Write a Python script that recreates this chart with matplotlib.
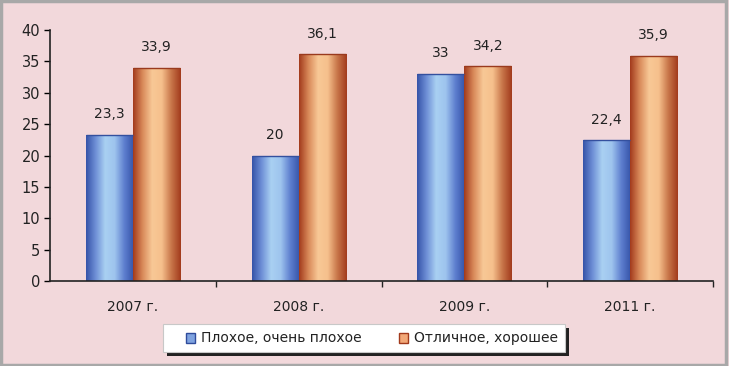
import matplotlib.pyplot as plt
import numpy as np
from matplotlib.colors import LinearSegmentedColormap
from matplotlib.patches import Rectangle

years = ["2007 г.", "2008 г.", "2009 г.", "2011 г."]
bad = [23.3, 20, 33, 22.4]
good = [33.9, 36.1, 34.2, 35.9]
bad_labels = ["23,3", "20", "33", "22,4"]
good_labels = ["33,9", "36,1", "34,2", "35,9"]
series_names = ["Плохое, очень плохое", "Отличное, хорошее"]

BG = "#F2D8DB"
blue_cmap = LinearSegmentedColormap.from_list(
    "b", ["#3553A8", "#6E8FD6", "#A9D0F2", "#9EC4EE", "#5E7FCF", "#3553A8"])
orange_cmap = LinearSegmentedColormap.from_list(
    "o", ["#A23A1C", "#D98A5A", "#F8C896", "#F6C08C", "#C8764A", "#A23A1C"])

fig = plt.figure(figsize=(7.29, 3.66), dpi=100)
fig.patch.set_facecolor(BG)
fig.patches.append(Rectangle((0.002, 0.004), 0.994, 0.992, transform=fig.transFigure,
                             fill=False, edgecolor="#A8A8A8", linewidth=2.5))

ax = fig.add_axes([50 / 729, 1 - 281 / 366, 663 / 729, 251 / 366])
ax.set_facecolor(BG)

x = np.arange(len(years))
w = 0.284
grad = np.linspace(0, 1, 256).reshape(1, -1)


def gradient_bars(xs, vals, cmap, top_color):
    bars = ax.bar(xs, vals, w, color="none", edgecolor="none", zorder=2)
    for b in bars:
        x0, y0 = b.get_x(), b.get_y()
        im = ax.imshow(grad, cmap=cmap, aspect="auto", zorder=2,
                       extent=(x0, x0 + b.get_width(), y0, y0 + b.get_height()))
        im.set_clip_path(b)
        ax.plot([x0, x0 + b.get_width()], [y0 + b.get_height()] * 2,
                color=top_color, lw=1, zorder=3, solid_capstyle="butt")
    return bars


gradient_bars(x - w / 2, bad, blue_cmap, "#34509E")
gradient_bars(x + w / 2, good, orange_cmap, "#9A3A1E")

for i in range(len(years)):
    ax.text(x[i] - w / 2, bad[i] + 2.2, bad_labels[i], ha="center", va="bottom",
            fontsize=10, color="#222222")
    ax.text(x[i] + w / 2, good[i] + 2.2, good_labels[i], ha="center", va="bottom",
            fontsize=10, color="#222222")

ax.set_xlim(-0.5, len(years) - 0.5)
ax.set_ylim(0, 40)
ax.set_yticks(range(0, 41, 5))
ax.set_xticks(x)
ax.set_xticklabels(years, fontsize=10, color="#222222")
ax.set_xticks(np.arange(0.5, len(years) - 0.5 + 0.01, 1), minor=True)
ax.tick_params(axis="x", which="major", length=0, pad=14)
ax.tick_params(axis="x", which="minor", length=4, width=1, color="#222222")
ax.tick_params(axis="y", length=4, width=1, labelsize=10.5, labelcolor="#222222", pad=3)
for s in ["top", "right"]:
    ax.spines[s].set_visible(False)
for s in ["left", "bottom"]:
    ax.spines[s].set_color("#222222")
    ax.spines[s].set_linewidth(1.2)

# legend box with shadow
fig.patches.append(Rectangle((167 / 729, 1 - 356 / 366), 402 / 729, 28 / 366,
                             transform=fig.transFigure, facecolor="#222222",
                             edgecolor="none", zorder=1))
fig.patches.append(Rectangle((163 / 729, 1 - 352 / 366), 402 / 729, 28 / 366,
                             transform=fig.transFigure, facecolor="white",
                             edgecolor="#C8C8C8", linewidth=0.8, zorder=2))
fig.patches.append(Rectangle((186 / 729, 1 - 343 / 366), 9 / 729, 10 / 366,
                             transform=fig.transFigure, facecolor="#7FA3E0",
                             edgecolor="#2F4C9C", linewidth=1, zorder=3))
fig.patches.append(Rectangle((399 / 729, 1 - 343 / 366), 9 / 729, 10 / 366,
                             transform=fig.transFigure, facecolor="#F2A878",
                             edgecolor="#A23A1C", linewidth=1, zorder=3))
fig.text(201 / 729, 1 - 338 / 366, series_names[0], ha="left", va="center",
         fontsize=10, color="#222222", zorder=4)
fig.text(414 / 729, 1 - 338 / 366, series_names[1], ha="left", va="center",
         fontsize=10, color="#222222", zorder=4)

fig.savefig("out.png", dpi=100, facecolor=BG)
